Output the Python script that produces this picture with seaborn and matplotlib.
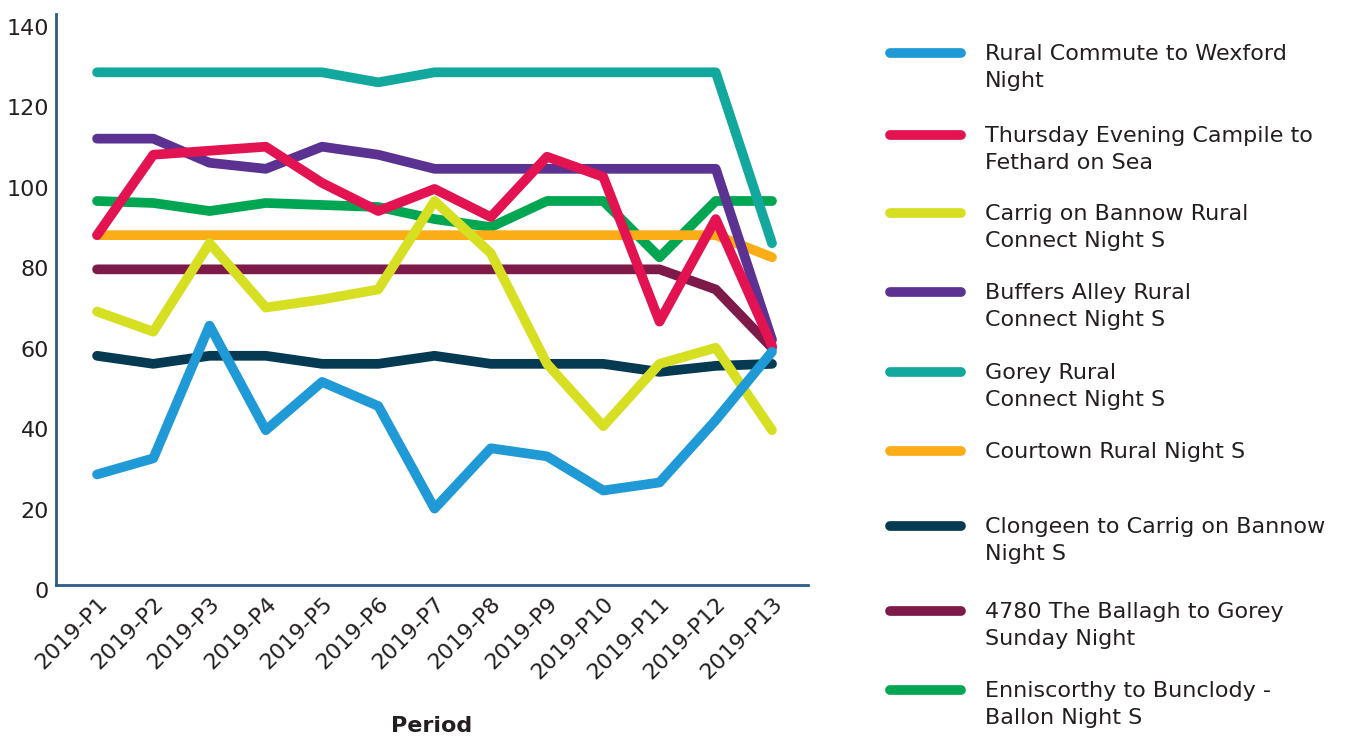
import pandas as pd
import seaborn as sns
import matplotlib.pyplot as plt
import matplotlib.transforms as mtransforms
from matplotlib.lines import Line2D

periods = ['2019-P1', '2019-P2', '2019-P3', '2019-P4', '2019-P5', '2019-P6', '2019-P7',
           '2019-P8', '2019-P9', '2019-P10', '2019-P11', '2019-P12', '2019-P13']

rural_commute = [27.5, 31.5, 64.5, 38.5, 50.5, 44.5, 19, 34, 32, 23.5, 25.5, 41, 58]
thursday_campile = [87, 107, 108, 109, 100, 93, 98.5, 91.5, 106.5, 101.5, 65.5, 91, 59.5]
carrig_bannow = [68, 63, 85, 69, 71, 73.5, 95.5, 82.5, 55, 39.5, 55, 59, 38.5]
buffers_alley = [111, 111, 105, 103.5, 109, 107, 103.5, 103.5, 103.5, 103.5, 103.5, 103.5, 61]
gorey_rural = [127.5, 127.5, 127.5, 127.5, 127.5, 125, 127.5, 127.5, 127.5, 127.5, 127.5, 127.5, 85]
courtown = [87, 87, 87, 87, 87, 87, 87, 87, 87, 87, 87, 87, 81.5]
clongeen = [57, 55, 57, 57, 55, 55, 57, 55, 55, 55, 53, 54.5, 55]
ballagh = [78.5, 78.5, 78.5, 78.5, 78.5, 78.5, 78.5, 78.5, 78.5, 78.5, 78.5, 73.5, 59]
enniscorthy = [95.5, 95, 93, 95, 94.5, 94, 91, 89, 95.5, 95.5, 81.5, 95.5, 95.5]

routes = ['Rural Commute to Wexford\nNight',
          'Thursday Evening Campile to\nFethard on Sea',
          'Carrig on Bannow Rural\nConnect Night S',
          'Buffers Alley Rural\nConnect Night S',
          'Gorey Rural\nConnect Night S',
          'Courtown Rural Night S',
          'Clongeen to Carrig on Bannow\nNight S',
          '4780 The Ballagh to Gorey\nSunday Night',
          'Enniscorthy to Bunclody -\nBallon Night S']
series = [rural_commute, thursday_campile, carrig_bannow, buffers_alley, gorey_rural,
          courtown, clongeen, ballagh, enniscorthy]
colors = ['#1f9ad6', '#e31352', '#d7df23', '#5b3292', '#13a89e',
          '#fbad18', '#063a52', '#7d1a4a', '#00a651']

rows = []
for name, vals in zip(routes, series):
    for p, v in zip(periods, vals):
        rows.append({'period': p, 'value': v, 'route': name})
df = pd.DataFrame(rows)

sns.set_style('white')
plt.rcParams['font.family'] = ['DejaVu Sans']
text_col = '#231f20'
axis_col = '#2d5b88'

fig = plt.figure(figsize=(13.69, 7.38), dpi=100)
W, H = 1369, 738
ax = fig.add_axes([56 / W, 1 - 585 / H, (808 - 56) / W, (585 - 14) / H])

# draw first legend entry last so the blue line sits on top
sns.lineplot(data=df, x='period', y='value', hue='route', hue_order=routes[::-1],
             palette=dict(zip(routes, colors)), linewidth=7, sort=False,
             errorbar=None, legend=False, solid_capstyle='round', ax=ax)

ax.set_ylim(0, 142)
ax.set_xlim(-0.73, 12.64)
ax.set_yticks(range(0, 141, 20))
ax.tick_params(axis='both', length=0, labelsize=16, labelcolor=text_col)
ax.tick_params(axis='y', pad=5)
ax.tick_params(axis='x', pad=6)
plt.setp(ax.get_xticklabels(), rotation=45, ha='right', rotation_mode='anchor')
# y labels sit a little below their values in the original
shift = mtransforms.ScaledTranslation(0, -5 / 100, fig.dpi_scale_trans)
for lab in ax.get_yticklabels():
    lab.set_transform(lab.get_transform() + shift)
ax.set_xlabel('Period', fontsize=16, fontweight='bold', color=text_col, labelpad=24)
ax.set_ylabel('')
for s in ['top', 'right']:
    ax.spines[s].set_visible(False)
for s in ['left', 'bottom']:
    ax.spines[s].set_color(axis_col)
    ax.spines[s].set_linewidth(2)

# legend on the right
legend_y = [53, 135, 213, 292, 372, 451, 526, 611, 690]
for name, col, y in zip(routes, colors, legend_y):
    fig.add_artist(Line2D([890 / W, 961 / W], [1 - y / H] * 2, color=col, lw=7,
                          solid_capstyle='round', transform=fig.transFigure))
    fig.text(985 / W, 1 - (y - 9) / H, name, fontsize=16, color=text_col,
             va='top', ha='left', linespacing=1.45)

fig.savefig('out.png', dpi=100)
